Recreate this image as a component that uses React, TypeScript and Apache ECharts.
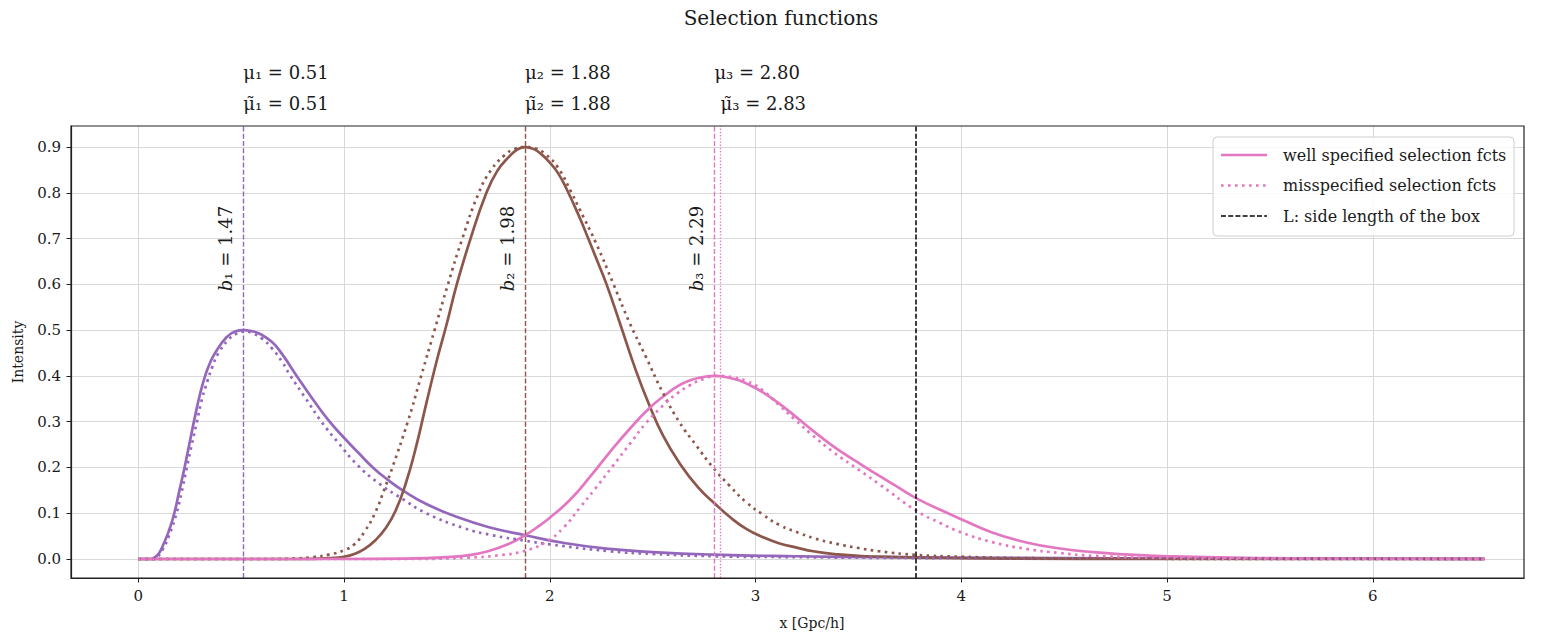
import React, { useEffect, useRef } from 'react';
import * as echarts from 'echarts';

const FONT = '"DejaVu Serif", "Liberation Serif", serif';
const TEXT = '#1a1a1a';
const PURPLE = '#9467bd';
const BROWN = '#8c564b';
const PINK = '#e377c2';

// axes
const xRange = [-0.327, 6.735];
const yRange = [-0.0415, 0.946];
const xTicks = [0, 1, 2, 3, 4, 5, 6];
const yTicks = [0, 0.1, 0.2, 0.3, 0.4, 0.5, 0.6, 0.7, 0.8, 0.9];

// annotation values
const muWell = [0.51, 1.88, 2.8];
const muMis = [0.51, 1.88, 2.83];
const bValues = [1.47, 1.98, 2.29];
const boxLength = 3.78;
const subs = ['₁', '₂', '₃'];

// curve 1 (purple)
const purpleWellX = [0, 0.06, 0.075, 0.1, 0.125, 0.15, 0.175, 0.2, 0.225, 0.25, 0.275, 0.3, 0.325, 0.35, 0.38, 0.43, 0.47, 0.512, 0.55, 0.59, 0.65, 0.7, 0.77, 0.85, 0.93, 1.0, 1.07, 1.14, 1.21, 1.285, 1.4, 1.56, 1.7, 1.88, 2.07, 2.29, 2.5, 2.8, 3.2, 3.6, 4.0, 4.5, 5.0, 5.5, 6.0, 6.544];
const purpleWellY = [0, 0, 0.002, 0.012, 0.035, 0.063, 0.1, 0.15, 0.2, 0.255, 0.31, 0.36, 0.4, 0.43, 0.455, 0.485, 0.497, 0.5, 0.498, 0.492, 0.474, 0.447, 0.4, 0.348, 0.3, 0.265, 0.232, 0.2, 0.174, 0.15, 0.12, 0.09, 0.07, 0.052, 0.035, 0.022, 0.015, 0.0095, 0.006, 0.004, 0.003, 0.002, 0.0015, 0.001, 0.0008, 0.0005];
const purpleMisX = [0, 0.075, 0.09, 0.12, 0.15, 0.186, 0.21, 0.236, 0.26, 0.285, 0.31, 0.337, 0.36, 0.39, 0.44, 0.48, 0.512, 0.55, 0.6, 0.65, 0.7, 0.74, 0.815, 0.89, 0.97, 1.066, 1.17, 1.285, 1.4, 1.58, 1.72, 1.88, 2.0, 2.29, 2.5, 2.8, 3.2, 3.6, 4.0, 5.0, 6.0, 6.544];
const purpleMisY = [0, 0, 0.003, 0.022, 0.052, 0.1, 0.145, 0.2, 0.25, 0.3, 0.35, 0.39, 0.42, 0.45, 0.48, 0.493, 0.497, 0.494, 0.482, 0.46, 0.43, 0.4, 0.35, 0.3, 0.255, 0.205, 0.165, 0.131, 0.1, 0.068, 0.052, 0.04, 0.032, 0.017, 0.011, 0.006, 0.004, 0.0025, 0.0018, 0.001, 0.0006, 0.0004];

// curve 2 (brown)
const brownWellX = [0, 0.7, 0.85, 0.93, 1.0, 1.05, 1.1, 1.15, 1.2, 1.25, 1.3, 1.35, 1.4, 1.45, 1.5, 1.548, 1.615, 1.692, 1.745, 1.8, 1.84, 1.88, 1.92, 1.96, 2.0, 2.04, 2.08, 2.146, 2.187, 2.23, 2.276, 2.341, 2.42, 2.485, 2.55, 2.63, 2.72, 2.8, 2.88, 2.955, 3.04, 3.117, 3.2, 3.28, 3.4, 3.5, 3.6, 3.8, 4.2, 5.0, 6.544];
const brownWellY = [0, 0, 0.0005, 0.002, 0.005, 0.011, 0.022, 0.04, 0.066, 0.105, 0.165, 0.245, 0.34, 0.432, 0.515, 0.6, 0.7, 0.8, 0.848, 0.878, 0.894, 0.9, 0.896, 0.884, 0.866, 0.843, 0.81, 0.745, 0.7, 0.652, 0.6, 0.515, 0.41, 0.335, 0.27, 0.21, 0.157, 0.122, 0.09, 0.066, 0.047, 0.034, 0.025, 0.017, 0.01, 0.007, 0.005, 0.003, 0.001, 0.0003, 0];
const brownMisX = [0, 0.65, 0.75, 0.85, 0.93, 1.0, 1.05, 1.1, 1.15, 1.2, 1.235, 1.31, 1.375, 1.44, 1.505, 1.575, 1.655, 1.715, 1.78, 1.83, 1.88, 1.93, 1.98, 2.04, 2.106, 2.144, 2.225, 2.31, 2.387, 2.468, 2.549, 2.63, 2.712, 2.793, 2.874, 2.955, 3.036, 3.117, 3.217, 3.279, 3.395, 3.5, 3.6, 3.78, 4.0, 4.3, 5.0, 6.544];
const brownMisY = [0, 0, 0.001, 0.004, 0.01, 0.019, 0.032, 0.06, 0.1, 0.157, 0.2, 0.3, 0.4, 0.5, 0.6, 0.7, 0.8, 0.85, 0.882, 0.896, 0.9, 0.897, 0.884, 0.855, 0.8, 0.765, 0.69, 0.6, 0.517, 0.441, 0.364, 0.299, 0.248, 0.2, 0.16, 0.124, 0.097, 0.074, 0.056, 0.046, 0.033, 0.024, 0.017, 0.009, 0.005, 0.002, 0.0005, 0];

// curve 3 (pink)
const pinkWellX = [0, 1.0, 1.3, 1.5, 1.6, 1.7, 1.8, 1.88, 1.95, 2.0, 2.1, 2.2, 2.3, 2.4, 2.485, 2.566, 2.62, 2.679, 2.74, 2.8, 2.86, 2.922, 2.98, 3.036, 3.12, 3.198, 3.28, 3.36, 3.43, 3.508, 3.6, 3.67, 3.78, 3.93, 4.0, 4.15, 4.317, 4.48, 4.64, 4.8, 5.0, 5.45, 6.0, 6.544];
const pinkWellY = [0, 0, 0.001, 0.004, 0.008, 0.017, 0.033, 0.052, 0.073, 0.09, 0.13, 0.182, 0.238, 0.29, 0.33, 0.36, 0.377, 0.39, 0.397, 0.4, 0.397, 0.39, 0.378, 0.364, 0.338, 0.31, 0.28, 0.252, 0.23, 0.208, 0.182, 0.163, 0.133, 0.101, 0.087, 0.058, 0.036, 0.023, 0.015, 0.01, 0.006, 0.002, 0.0006, 0.0002];
const pinkMisX = [0, 1.3, 1.6, 1.75, 1.88, 1.984, 2.07, 2.146, 2.22, 2.306, 2.39, 2.468, 2.566, 2.62, 2.679, 2.75, 2.828, 2.89, 2.955, 3.03, 3.117, 3.19, 3.265, 3.38, 3.508, 3.603, 3.78, 3.9, 4.0, 4.15, 4.317, 4.48, 4.64, 5.0, 5.5, 6.544];
const pinkMisY = [0, 0, 0.003, 0.008, 0.018, 0.038, 0.07, 0.112, 0.153, 0.203, 0.252, 0.297, 0.342, 0.362, 0.379, 0.394, 0.4, 0.397, 0.389, 0.37, 0.335, 0.305, 0.275, 0.233, 0.193, 0.163, 0.106, 0.078, 0.058, 0.037, 0.022, 0.013, 0.007, 0.002, 0.0005, 0];

const legendItems = ['well specified selection fcts', 'misspecified selection fcts', 'L: side length of the box'];

const GRID = { left: 71, top: 126, right: 29, bottom: 56 };
const W = 1553;
const H = 634;

const zip = (xs: number[], ys: number[]) => xs.map((x, i) => [x, ys[i]]);
const DOT: number[] = [2.6, 4.4];
const DASH: number[] = [5, 2.2];

export default function App() {
  const ref = useRef<HTMLDivElement>(null);
  useEffect(() => {
    const chart = echarts.init(ref.current!, null, { renderer: 'svg' });
    const curve = (name: string, color: string, xs: number[], ys: number[], dotted: boolean, extra: any = {}) => ({
      type: 'line',
      name,
      data: zip(xs, ys),
      symbol: 'none',
      showSymbol: false,
      smooth: 0.5,
      silent: true,
      lineStyle: { color, width: 2.7, type: dotted ? DOT : 'solid', cap: 'butt', join: 'round' },
      z: dotted ? 4 : 3,
      ...extra,
    });
    const vColors = [PURPLE, BROWN, PINK];
    const markLines: any[] = [];
    muWell.forEach((m, i) => markLines.push({ xAxis: m, lineStyle: { color: vColors[i], type: DASH, width: 1.4 } }));
    markLines.push({ xAxis: muMis[2], lineStyle: { color: PINK, type: [1.4, 1.8], width: 1.3 } });
    markLines.push({ xAxis: boxLength, lineStyle: { color: '#000', type: DASH, width: 1.5 } });

    chart.setOption({
      animation: false,
      backgroundColor: '#fff',
      grid: { ...GRID, containLabel: false, outerBoundsMode: 'none', show: false },
      xAxis: {
        type: 'value',
        min: xRange[0],
        max: xRange[1],
        splitNumber: 7,
        axisLine: { show: true, onZero: false, lineStyle: { color: '#222', width: 1.2 } },
        axisTick: { show: true, customValues: xTicks, length: 4.5, lineStyle: { color: '#222' } },
        axisLabel: {
          customValues: xTicks,
          formatter: (v: number) => (Number.isInteger(v) ? String(v) : ''),
          fontFamily: FONT,
          fontSize: 15,
          color: TEXT,
          margin: 10,
        },
        splitLine: { show: true, lineStyle: { color: '#d9d9d9', width: 1 } },
      },
      yAxis: {
        type: 'value',
        min: yRange[0],
        max: yRange[1],
        splitNumber: 10,
        name: 'Intensity',
        nameLocation: 'middle',
        nameGap: 46,
        nameRotate: 90,
        nameTextStyle: { fontFamily: FONT, fontSize: 14, color: TEXT },
        axisLine: { show: true, onZero: false, lineStyle: { color: '#222', width: 1.2 } },
        axisTick: { show: true, customValues: yTicks, length: 4.5, lineStyle: { color: '#222' } },
        axisLabel: {
          customValues: yTicks,
          formatter: (v: number) => v.toFixed(1),
          fontFamily: FONT,
          fontSize: 15,
          color: TEXT,
          margin: 10,
        },
        splitLine: { show: true, lineStyle: { color: '#d9d9d9', width: 1 } },
      },
      series: [
        curve('purple well', PURPLE, purpleWellX, purpleWellY, false, {
          markLine: { silent: true, symbol: ['none', 'none'], label: { show: false }, data: markLines, animation: false },
        }),
        curve('brown well', BROWN, brownWellX, brownWellY, false),
        curve('pink well', PINK, pinkWellX, pinkWellY, false),
        curve('purple mis', PURPLE, purpleMisX, purpleMisY, true),
        curve('brown mis', BROWN, brownMisX, brownMisY, true),
        curve('pink mis', PINK, pinkMisX, pinkMisY, true),
      ],
    });

    const px = (x: number, y: number) => chart.convertToPixel({ gridIndex: 0 }, [x, y]) as number[];
    const graphic: any[] = [];
    const gx0 = GRID.left;
    const gy0 = GRID.top;
    const gw = W - GRID.left - GRID.right;
    const gh = H - GRID.top - GRID.bottom;

    // frame
    graphic.push({
      type: 'rect',
      silent: true,
      z: 50,
      shape: { x: gx0, y: gy0, width: gw, height: gh },
      style: { fill: 'none', stroke: '#222', lineWidth: 1.2 },
    });

    // title
    graphic.push({
      type: 'text',
      x: 781,
      y: 18,
      style: { text: 'Selection functions', fontFamily: FONT, fontSize: 20, fill: TEXT, align: 'center', verticalAlign: 'middle' },
    });
    // x axis label
    graphic.push({
      type: 'text',
      x: 812,
      y: 623,
      style: { text: 'x [Gpc/h]', fontFamily: FONT, fontSize: 14, fill: TEXT, align: 'center', verticalAlign: 'middle' },
    });

    // mu labels above the plot
    muWell.forEach((m, i) => {
      const p = px(m, 0);
      const q = px(muMis[i], 0);
      graphic.push({
        type: 'text',
        x: p[0],
        y: gy0 - 54,
        style: { text: `μ${subs[i]} = ${m.toFixed(2)}`, fontFamily: FONT, fontSize: 18, fill: TEXT, align: 'left', verticalAlign: 'middle' },
      });
      graphic.push({
        type: 'text',
        x: q[0],
        y: gy0 - 23,
        style: { text: `μ\u0303${subs[i]} = ${muMis[i].toFixed(2)}`, fontFamily: FONT, fontSize: 18, fill: TEXT, align: 'left', verticalAlign: 'middle' },
      });
      // rotated b labels
      const b = px(m, 0.585);
      graphic.push({
        type: 'text',
        x: b[0] - 9,
        y: b[1],
        rotation: Math.PI / 2,
        style: {
          text: `{i|b}${subs[i]} = ${bValues[i].toFixed(2)}`,
          rich: { i: { fontStyle: 'italic', fontFamily: FONT, fontSize: 18, fill: TEXT } },
          fontFamily: FONT,
          fontSize: 18,
          fill: TEXT,
          align: 'left',
          verticalAlign: 'bottom',
        },
      });
    });

    // legend
    const lx = 1213;
    const ly = 137;
    const rows = [155, 185.5, 216];
    graphic.push({
      type: 'rect',
      z: 60,
      shape: { x: lx, y: ly, width: 301, height: 99, r: 4 },
      style: { fill: 'rgba(255,255,255,0.85)', stroke: '#cfcfcf', lineWidth: 1 },
    });
    const legendStyles = [
      { stroke: PINK, lineWidth: 2.7 },
      { stroke: PINK, lineWidth: 2.7, lineDash: DOT },
      { stroke: '#000', lineWidth: 1.5, lineDash: DASH },
    ];
    legendItems.forEach((t, i) => {
      graphic.push({
        type: 'line',
        z: 61,
        shape: { x1: lx + 8, y1: rows[i], x2: lx + 54, y2: rows[i] },
        style: legendStyles[i],
      });
      graphic.push({
        type: 'text',
        z: 61,
        x: lx + 70,
        y: rows[i],
        style: { text: t, fontFamily: FONT, fontSize: 16, fill: TEXT, align: 'left', verticalAlign: 'middle' },
      });
    });

    chart.setOption({ graphic });
    return () => chart.dispose();
  }, []);
  return <div ref={ref} style={{ position: 'fixed', left: 0, top: 0, width: W, height: H, background: '#fff' }} />;
}
